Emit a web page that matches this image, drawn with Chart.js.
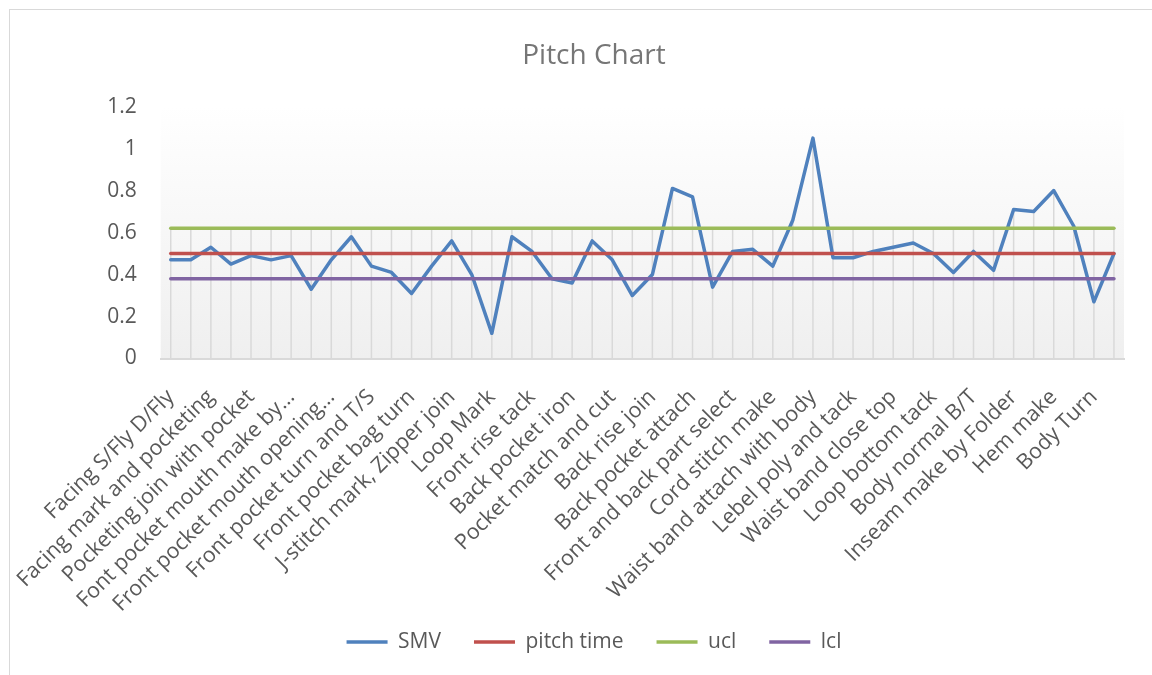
<!DOCTYPE html>
<html>
<head>
<meta charset="utf-8">
<title>Pitch Chart</title>
<script src="https://cdn.jsdelivr.net/npm/chart.js@4.4.1/dist/chart.umd.min.js"></script>
<style>
  html, body { margin: 0; padding: 0; background: #fff; overflow: hidden; }
  #frame { position: absolute; left: 9px; top: 9px; width: 1168px; height: 665px; border-left: 1px solid #d9d9d9; border-top: 1px solid #d9d9d9; }
</style>
</head>
<body>
<div id="frame"><canvas id="pitch-chart"></canvas></div>
<script>
// Pitch Chart — SMV per operation against pitch time and control limits

// only every other operation name is printed on the axis
const stepNames = [
  'Facing S/Fly D/Fly',
  'Facing mark and pocketing',
  'Pocketing join with pocket',
  'Font pocket mouth make by…',
  'Front pocket mouth opening…',
  'Front pocket turn and T/S',
  'Front pocket bag turn',
  'J-stitch mark, Zipper join',
  'Loop Mark',
  'Front rise tack',
  'Back pocket iron',
  'Pocket match and cut',
  'Back rise join',
  'Back pocket attach',
  'Front and back part select',
  'Cord stitch make',
  'Waist band attach with body',
  'Lebel poly and tack',
  'Waist band close top',
  'Loop bottom tack',
  'Body normal B/T',
  'Inseam make by Folder',
  'Hem make',
  'Body Turn'
];

const smv = [
  0.47, 0.47, 0.53, 0.45, 0.49, 0.47, 0.49, 0.33, 0.47, 0.58,
  0.44, 0.41, 0.31, 0.44, 0.56, 0.40, 0.12, 0.58, 0.51, 0.38,
  0.36, 0.56, 0.47, 0.30, 0.40, 0.81, 0.77, 0.34, 0.51, 0.52,
  0.44, 0.66, 1.05, 0.48, 0.48, 0.51, 0.53, 0.55, 0.50, 0.41,
  0.51, 0.42, 0.71, 0.70, 0.80, 0.63, 0.27, 0.50
];

const pitchTime = [
  0.5, 0.5, 0.5, 0.5, 0.5, 0.5, 0.5, 0.5, 0.5, 0.5, 0.5, 0.5,
  0.5, 0.5, 0.5, 0.5, 0.5, 0.5, 0.5, 0.5, 0.5, 0.5, 0.5, 0.5,
  0.5, 0.5, 0.5, 0.5, 0.5, 0.5, 0.5, 0.5, 0.5, 0.5, 0.5, 0.5,
  0.5, 0.5, 0.5, 0.5, 0.5, 0.5, 0.5, 0.5, 0.5, 0.5, 0.5, 0.5
];

const ucl = [
  0.62, 0.62, 0.62, 0.62, 0.62, 0.62, 0.62, 0.62, 0.62, 0.62, 0.62, 0.62,
  0.62, 0.62, 0.62, 0.62, 0.62, 0.62, 0.62, 0.62, 0.62, 0.62, 0.62, 0.62,
  0.62, 0.62, 0.62, 0.62, 0.62, 0.62, 0.62, 0.62, 0.62, 0.62, 0.62, 0.62,
  0.62, 0.62, 0.62, 0.62, 0.62, 0.62, 0.62, 0.62, 0.62, 0.62, 0.62, 0.62
];

const lcl = [
  0.38, 0.38, 0.38, 0.38, 0.38, 0.38, 0.38, 0.38, 0.38, 0.38, 0.38, 0.38,
  0.38, 0.38, 0.38, 0.38, 0.38, 0.38, 0.38, 0.38, 0.38, 0.38, 0.38, 0.38,
  0.38, 0.38, 0.38, 0.38, 0.38, 0.38, 0.38, 0.38, 0.38, 0.38, 0.38, 0.38,
  0.38, 0.38, 0.38, 0.38, 0.38, 0.38, 0.38, 0.38, 0.38, 0.38, 0.38, 0.38
];

const yTickLabels = ['0', '0.2', '0.4', '0.6', '0.8', '1', '1.2'];

// 48 categories, the hidden ones left blank
const categories = [];
stepNames.forEach(n => categories.push(n, ''));

Chart.defaults.font.family = '"Open Sans", "Liberation Sans", sans-serif';
Chart.defaults.color = '#595959';

// grey gradient behind the plot, like the Excel style
const plotBackground = {
  id: 'plotBackground',
  beforeDraw(chart) {
    const { ctx, chartArea: a } = chart;
    const g = ctx.createLinearGradient(0, a.top, 0, a.bottom);
    g.addColorStop(0, '#ffffff');
    g.addColorStop(1, '#efefef');
    ctx.save();
    ctx.fillStyle = g;
    ctx.fillRect(a.left, a.top, a.width, a.height);
    ctx.restore();
  }
};

// drop lines: from the highest series value down to the axis
const dropLines = {
  id: 'dropLines',
  beforeDatasetsDraw(chart) {
    const { ctx, scales: { x, y } } = chart;
    ctx.save();
    ctx.strokeStyle = '#d9d9d9';
    ctx.lineWidth = 1.5;
    smv.forEach((v, i) => {
      const top = Math.max(v, pitchTime[i], ucl[i], lcl[i]);
      const px = x.getPixelForValue(i);
      ctx.beginPath();
      ctx.moveTo(px, y.getPixelForValue(top));
      ctx.lineTo(px, y.getPixelForValue(0));
      ctx.stroke();
    });
    ctx.restore();
  }
};

const lineStyle = { borderWidth: 3.5, borderCapStyle: 'round', borderJoinStyle: 'round' };

new Chart(document.getElementById('pitch-chart'), {
  type: 'line',
  data: {
    labels: categories,
    datasets: [
      { label: 'SMV', data: smv, borderColor: '#4f81bd', backgroundColor: '#4f81bd', order: 4, ...lineStyle },
      { label: 'pitch time', data: pitchTime, borderColor: '#c0504d', backgroundColor: '#c0504d', order: 3, ...lineStyle },
      { label: 'ucl', data: ucl, borderColor: '#9bbb59', backgroundColor: '#9bbb59', order: 2, ...lineStyle },
      { label: 'lcl', data: lcl, borderColor: '#8064a2', backgroundColor: '#8064a2', order: 1, ...lineStyle }
    ]
  },
  options: {
    responsive: true,
    maintainAspectRatio: false,
    animation: false,
    elements: {
      line: { tension: 0, fill: false },
      point: { radius: 0, hoverRadius: 0 }
    },
    layout: { padding: { top: 0, bottom: 12.5, left: 0, right: 0 } },
    plugins: {
      title: {
        display: true, text: 'Pitch Chart', color: '#767676',
        font: { size: 28, weight: 'normal' }, padding: { top: 29, bottom: 34 }
      },
      legend: {
        position: 'bottom',
        labels: {
          usePointStyle: true, pointStyle: 'line', pointStyleWidth: 41, padding: 33,
          color: '#595959', font: { size: 21 },
          sort: (a, b) => a.datasetIndex - b.datasetIndex
        }
      },
      tooltip: { enabled: false }
    },
    scales: {
      x: {
        offset: true,
        grid: { display: false, drawTicks: false },
        border: { color: '#d9d9d9', width: 2 },
        ticks: { autoSkip: false, minRotation: 45, maxRotation: 45, padding: 26, color: '#595959', font: { size: 21.5 } },
        afterFit: s => {
          s.height = 240;
          s._computeLabelArea = () => undefined; // let the long labels run past the axis box
        }
      },
      y: {
        min: 0, max: 1.2,
        grid: { display: false, drawTicks: false },
        border: { display: false },
        ticks: { stepSize: 0.2, padding: 24, color: '#595959', font: { size: 21 }, callback: (v, i) => yTickLabels[i] },
        afterFit: s => { s.width = 150.7; }
      },
      yRight: {
        position: 'right',
        grid: { display: false, drawTicks: false },
        border: { display: false },
        ticks: { display: false },
        afterFit: s => { s.width = 54; }
      }
    }
  },
  plugins: [plotBackground, dropLines]
});
</script>
</body>
</html>
